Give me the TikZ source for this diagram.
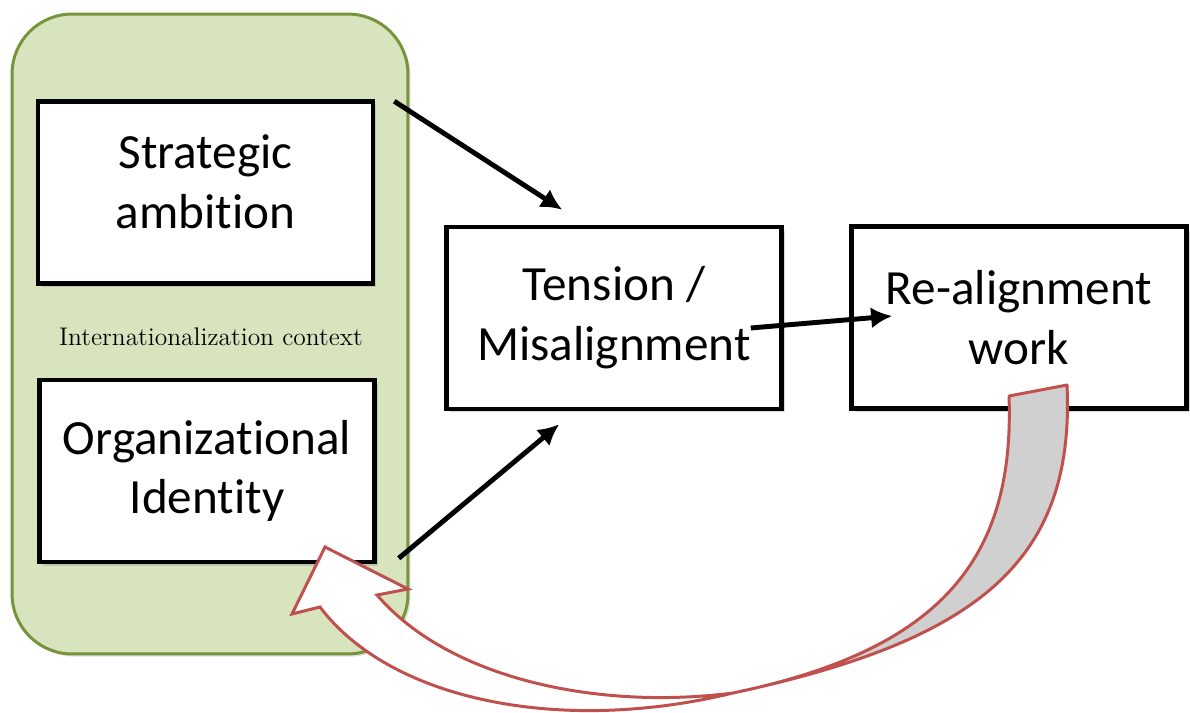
\documentclass[tikz,border=0pt]{standalone}
\usepackage{fontspec}
\newfontfamily\boxfont[Ligatures=NoCommon]{Carlito}
\usetikzlibrary{arrows.meta,shadows}
\definecolor{ctxfill}{HTML}{D7E4BD}
\definecolor{ctxline}{HTML}{77933C}
\definecolor{loopred}{HTML}{C0504D}
\definecolor{loopgray}{HTML}{D0D0D0}
\begin{document}
\begin{tikzpicture}[x=0.02cm,y=-0.02cm,
    block/.style={draw, line width=2.6pt, fill=white, minimum width=6.7cm, minimum height=3.64cm,
      align=center, font=\boxfont\fontsize{28}{34}\selectfont,
      drop shadow={shadow xshift=2pt, shadow yshift=-2pt, opacity=0.3}},
    link/.style={line width=2.8pt, -{Latex[length=12pt,width=12pt]}}]
    \useasboundingbox (0,0) rectangle (1190,713);
    \node[draw=ctxline, fill=ctxfill, line width=1.7pt, rounded corners=1.2cm, minimum width=7.92cm, minimum height=12.8cm,
      drop shadow={shadow xshift=1.5pt, shadow yshift=-1.5pt, opacity=0.25}] (ctx) at (210,334) {};
    \node (ctxlabel) at (211,337) {\fontsize{14.5}{17}\selectfont Internationalization context};
    \node[block, text depth=0.45cm] (sa) at (205.5,192.5) {Strategic\\ambition};
    \node[block] (oi) at (207,471) {Organizational\\Identity};
    \node[block] (tm) at (614,318) {Tension /\\Misalignment};
    \node[block] (ra) at (1019,317.5) {Re-alignment\\work};
    \draw[link] ([xshift=0.38cm,yshift=-0.04cm]sa.north east) -- ([xshift=2.36cm,yshift=0.3cm]tm.north west);
    \draw[link] ([xshift=0.44cm,yshift=0.12cm]oi.south east) -- ([xshift=2.3cm,yshift=-0.26cm]tm.south west);
    \draw[link] ([xshift=-0.66cm,yshift=-0.2cm]tm.east) -- ([xshift=0.86cm,yshift=0.03cm]ra.west);
    \filldraw[draw=loopred, fill=loopgray, line width=1.7pt, line join=round] (1009,396) -- (1067,385)
      .. controls (1075,560) and (980,640) .. (733,693) .. controls (940,650) and (1015,560) .. (1009,396) -- cycle;
    \filldraw[draw=loopred, fill=white, line width=1.7pt] (733,693) .. controls (600,710) and (450,680) .. (377,595)
      -- (408,589) -- (325,547) -- (292,614) -- (320,607) .. controls (390,700) and (560,735) .. (733,693) -- cycle;
\end{tikzpicture}
\end{document}
